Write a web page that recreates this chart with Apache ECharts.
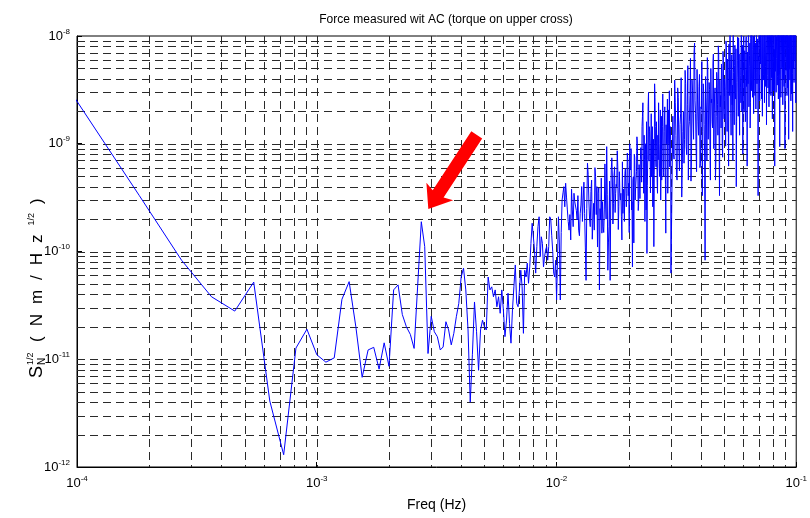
<!DOCTYPE html>
<html><head><meta charset="utf-8">
<script src="https://cdn.jsdelivr.net/npm/echarts@6/dist/echarts.min.js"></script>
<style>html,body{margin:0;padding:0;background:#fff}#c{width:810px;height:518px}</style>
</head><body><div id="c"></div>
<script>
// ---- data ----
const binWidth = 9.1e-5; // Hz, FFT bin spacing
// bins 1..110 (every bin)
const lowBand = [
3.4e-9,3.3e-10,8.3e-11,3.8e-11,2.8e-11,5.2e-11,4.1e-12,1.3e-12,1.27e-11,1.9e-11,
1.1e-11,9.4e-12,1.03e-11,3.6e-11,5.25e-11,2.0e-11,6.8e-12,1.22e-11,1.29e-11,8.1e-12,
1.42e-11,8.6e-12,4.4e-11,4.9e-11,2.6e-11,2.0e-11,1.7e-11,1.26e-11,5.0e-11,1.89e-10,
1.11e-10,1.13e-11,2.5e-11,1.8e-11,1.62e-11,1.22e-11,1.3e-11,2.23e-11,1.87e-11,1.36e-11,
1.74e-11,2.48e-11,3.3e-11,5.8e-11,7.0e-11,4.4e-11,1.87e-11,4.0e-12,1.1e-11,3.4e-11,
1.8e-11,7.9e-12,1.87e-11,2.3e-11,2.0e-11,1.87e-11,5.8e-11,4.4e-11,4.7e-11,3.8e-11,
4.4e-11,3.07e-11,3.8e-11,2.67e-11,4.4e-11,2.86e-11,1.62e-11,2.31e-11,4.1e-11,2.15e-11,
1.41e-11,2.86e-11,4.7e-11,7.5e-11,3.3e-11,3.07e-11,4.4e-11,6.7e-11,4.7e-11,1.74e-11,
6.7e-11,5.8e-11,7.8e-11,5.07e-11,7.2e-11,1.19e-10,1.83e-10,1.83e-10,1.03e-10,6.3e-11,
1.11e-10,1.7e-10,2.1e-10,8.95e-11,1.37e-10,1.19e-10,7.2e-11,8.95e-11,1.03e-10,1.11e-10,
8.3e-11,1.11e-10,2.1e-10,2.0e-10,1.4e-10,1.0e-10,6.3e-11,5.8e-11,8.3e-11,3.55e-11
];
// bins 112..330, even bins
const midEvenStart = 112, midStep = 2;
const midEven = [
2.1e-10,3.55e-11,3.0e-10,4.0e-10,4.3e-10,2.43e-10,1.58e-10,1.28e-10,2.43e-10,3.47e-10,
2.8e-10,1.96e-10,1.58e-10,2.26e-10,4.0e-10,3.0e-10,2.26e-10,5.4e-11,6.6e-10,3.0e-10,
1.7e-10,4.6e-10,1.96e-10,1.58e-10,4.95e-10,4.0e-10,3.47e-10,4.4e-11,1.96e-10,1.48e-10,
1.7e-10,2.43e-10,3.0e-10,9.4e-10,6.7e-11,1.7e-10,5.4e-11,5.7e-10,4.95e-10,2.8e-10,
6.1e-10,3.47e-10,4.0e-10,6.1e-10,2.6e-10,3.47e-10,3.47e-10,1.28e-10,2.26e-10,3.47e-10,
5.3e-10,4.0e-10,3.47e-10,7.1e-10,4.3e-10,1.0e-9,5.7e-10,2.43e-10,7.2e-11,4.95e-10,
8.0e-10,3.0e-10,4.0e-10,1.16e-9,5.7e-10,2.8e-10,4.95e-10,7.1e-10,7.6e-10,1.44e-9,
2.4e-9,3.47e-10,7.1e-10,1.0e-9,2.43e-10,9.6e-11,7.1e-10,3.0e-9,1.44e-9,1.0e-9,
7.1e-10,4.95e-10,1.44e-9,3.47e-10,1.11e-10,3.6e-9,1.44e-9,6.1e-10,9.4e-10,3.47e-10,
7.1e-10,1.0e-9,4.95e-10,2.06e-9,5.7e-10,4.6e-10,1.44e-9,9.4e-10,4.95e-10,1.66e-9,
7.1e-10,1.48e-10,1.0e-9,1.44e-9,3.47e-10,2.06e-9,1.0e-9,6.1e-10,1.44e-9,6.3e-11
];
// bins 113..329, odd bins
const midOddStart = 113;
const midOdd = [
1.2e-10,1.5e-10,3.5e-10,2.6e-10,3.2e-10,1.9e-10,2.2e-10,3.8e-10,1.7e-10,2.9e-10,
2.4e-10,3.3e-10,1.4e-10,2.7e-10,1.9e-10,4.4e-10,1.1e-10,2.5e-10,5.2e-10,2.0e-10,
3.6e-10,1.3e-10,2.8e-10,6.0e-10,2.2e-10,1.1e-10,3.9e-10,2.5e-10,4.8e-10,2.9e-10,
1.5e-10,6.5e-10,2.0e-10,3.4e-10,1.2e-10,4.5e-10,2.7e-10,7.4e-10,1.8e-10,5.1e-10,
2.3e-10,4.2e-10,8.6e-10,1.6e-10,5.5e-10,3.0e-10,2.1e-10,6.8e-10,3.8e-10,1.9e-10,
5.9e-10,2.6e-10,8.2e-10,3.3e-10,1.5e-10,6.2e-10,9.0e-10,2.9e-10,4.6e-10,1.2e-10,
7.5e-10,3.9e-10,5.5e-10,1.0e-9,2.4e-10,6.4e-10,3.1e-10,9.2e-10,4.4e-10,1.8e-9,
6.0e-10,1.2e-9,1.9e-10,8.4e-10,1.6e-9,4.1e-10,2.2e-9,6.9e-10,1.3e-9,3.5e-10,
1.9e-9,8.0e-10,2.6e-10,1.1e-9,5.2e-10,2.7e-9,7.6e-10,1.6e-9,4.4e-10,1.2e-9,
2.4e-9,6.1e-10,1.0e-9,3.0e-10,1.8e-9,8.5e-10,2.9e-9,5.4e-10,1.3e-9,2.2e-9,
4.2e-10,1.5e-9,9.8e-10,2.6e-9,5.8e-10,1.7e-9,3.1e-9,8.2e-10,1.1e-9
];
// bins 334..1098, every 4th bin
const highAStart = 334, highStep = 4;
const highA = [
6.5e-11,8e-10,3.9e-9,1.2e-9,4.6e-10, 2.7e-9,5.6e-10,1.9e-9,3.2e-10,1.3e-9,
6.6e-10,4.8e-9,9.4e-10,2.3e-9,4.6e-10, 1.6e-9,6.2e-9,7.8e-10,3.1e-9,1.1e-9,
8.6e-9,1.9e-9,5.5e-10,2.6e-9,1.2e-9, 4.4e-9,6.6e-10,2.1e-9,3.3e-10,3.6e-9,
1.5e-9,8.3e-11,2.7e-9,7e-10,5.2e-9, 1.1e-9,3.2e-9,4.6e-10,2.4e-9,1.6e-9,
5.6e-9,9e-10,2.9e-9,4.6e-10,1.8e-9, 3.9e-9,1.2e-9,6.9e-9,3.3e-10,2.2e-9,
1.4e-9,4.5e-9,7.5e-10,6e-9,1.7e-9, 3.4e-9,9.5e-10,7.8e-9,1.3e-9,4.2e-9,
6.2e-10,2.8e-9,1.1e-8,1.9e-9,5e-9, 2.3e-9,7e-10,4.6e-9,1.5e-9,8.2e-9,
2.6e-9,4e-10,3.7e-9,9.8e-9,1.8e-9, 6.4e-9,1.2e-9,4.3e-9,2.4e-9,1.1e-8,
3e-9,8e-10,5.8e-9,2e-9,7.3e-9, 1.6e-9,9.2e-9,3.4e-9,6.2e-10,4.8e-9,
1.2e-8,2.2e-9,6.6e-9,1.4e-9,9.5e-9, 3.1e-9,1.3e-8,2.7e-9,7.8e-9,1.9e-9,
1.1e-8,4e-9,8.6e-9,2.1e-9,1.4e-8, 3.6e-9,9e-9,3.3e-10,6e-9,1.2e-8,
2.5e-9,7.4e-9,1.5e-8,3e-9,9.6e-9, 1.8e-9,1.3e-8,4.4e-9,8e-9,2.4e-9,
1.6e-8,5.2e-9,1.1e-8,1.5e-9,7e-9, 1.2e-8,3.3e-9,9.2e-9,2.2e-9,1.4e-8,
4.6e-9,1e-8,2.8e-9,1.3e-8,6.2e-9, 1.7e-9,1.1e-8,5.4e-9,1.5e-8,3.6e-9,
6.2e-10,8.6e-9,1.2e-8,3e-9,9.8e-9, 1.4e-8,4.2e-9,1.1e-8,2.6e-9,7.6e-9,
1.3e-8,9.4e-10,8.8e-9,1.6e-8,3.8e-9, 1e-8,5e-9,1.4e-8,2.3e-9,9e-9,
1.5e-8,3.4e-9,1.2e-8,9e-10,7.2e-9, 1.3e-8,4.8e-9,1.1e-8,2.8e-9,1.6e-8,
5.6e-9,1.2e-8,1.1e-9,9.4e-9,1.4e-8, 3.9e-9,1.1e-8,6.6e-9,1.5e-8,2.9e-9,
1.2e-8,7.8e-9,1.3e-9,1.4e-8,5e-9, 1e-8,3.6e-9,1.6e-8,6e-9,1.3e-8,
2.4e-9,1.1e-8
];
// bins 336..1096, every 4th bin
const highBStart = 336;
const highB = [
1.8e-9,7.2e-10,2.4e-9,5.1e-10,3.3e-9,8.8e-10,1.5e-9,4.1e-9,6.4e-10,2.0e-9,
1.1e-9,3.6e-9,7.9e-10,5.3e-9,1.4e-9,2.8e-9,4.5e-10,3.9e-9,1.7e-9,7.1e-9,
2.5e-9,9.2e-10,4.9e-9,1.6e-9,3.4e-9,6.0e-10,2.2e-9,5.8e-9,1.3e-9,3.0e-9,
7.4e-10,4.2e-9,2.0e-9,6.3e-9,1.1e-9,3.7e-9,8.5e-10,5.0e-9,2.6e-9,1.4e-9,
6.8e-9,1.9e-9,3.3e-9,7.0e-10,4.6e-9,2.3e-9,8.1e-9,1.2e-9,3.9e-9,2.8e-9,
5.5e-9,1.0e-9,7.2e-9,2.1e-9,4.0e-9,1.5e-9,9.0e-9,3.1e-9,6.1e-9,1.8e-9,
8.4e-9,2.7e-9,4.9e-9,1.2e-9,6.7e-9,3.5e-9,1.1e-8,2.2e-9,5.3e-9,3.0e-9,
7.6e-9,1.6e-9,5.9e-9,4.1e-9,9.6e-9,2.5e-9,6.8e-9,3.3e-9,1.2e-8,2.0e-9,
8.2e-9,4.4e-9,1.0e-8,2.9e-9,6.3e-9,1.7e-9,9.9e-9,4.8e-9,7.1e-9,3.6e-9,
1.1e-8,5.2e-9,8.6e-9,2.4e-9,1.3e-8,4.0e-9,7.5e-9,3.2e-9,1.0e-8,5.9e-9,
1.2e-8,2.8e-9,8.9e-9,4.6e-9,1.4e-8,3.7e-9,9.4e-9,6.5e-9,1.1e-8,3.0e-9,
1.3e-8,5.5e-9,8.0e-9,2.6e-9,1.5e-8,6.1e-9,1.0e-8,3.9e-9,1.2e-8,7.0e-9,
9.1e-9,3.4e-9,1.4e-8,6.6e-9,1.1e-8,4.3e-9,1.6e-8,5.7e-9,8.7e-9,2.9e-9,
1.2e-8,6.9e-9,1.0e-8,4.1e-9,1.5e-8,5.0e-9,9.3e-9,3.1e-9,1.3e-8,7.5e-9,
1.1e-8,4.7e-9,1.6e-8,6.2e-9,9.0e-9,3.5e-9,1.4e-8,7.9e-9,1.2e-8,4.4e-9,
1.5e-8,6.0e-9,1.0e-8,2.7e-9,1.3e-8,7.2e-9,1.1e-8,5.1e-9,1.6e-8,4.0e-9,
1.2e-8,6.7e-9,1.4e-8,3.8e-9,1.0e-8,8.3e-9,1.5e-8,5.4e-9,1.1e-8,3.3e-9,
1.3e-8,7.7e-9,1.0e-8,4.9e-9,1.6e-8,6.4e-9,1.2e-8,2.5e-9,1.4e-8,8.1e-9,
1.1e-8,4.5e-9,1.5e-8,6.8e-9,1.2e-8,3.7e-9,1.3e-8,7.3e-9,1.0e-8,5.6e-9,
1.2e-8
];
// axes
const xMin = 1e-4, xMax = 1e-1;
const yMin = 1e-12, yMax = 1e-8;
const xGridDecades = [1e-4, 1e-3, 1e-2];
const yGridDecades = [1e-12, 1e-11, 1e-10, 1e-9];
const gridMantissas = [1, 2, 3, 4, 5, 6, 7, 8, 9];
// annotation arrow (data coordinates)
const arrowTip = [2.92e-3, 2.48e-10];
const arrowTail = [4.65e-3, 1.21e-9];

const titleText = 'Force measured wit AC (torque on upper cross)';
const xName = 'Freq (Hz)';

// ---- build ----
const points = [];
lowBand.forEach((v, i) => points.push([(i + 1) * binWidth, v]));
midEven.forEach((v, i) => points.push([(midEvenStart + i * midStep) * binWidth, v]));
midOdd.forEach((v, i) => points.push([(midOddStart + i * midStep) * binWidth, v]));
highA.forEach((v, i) => points.push([(highAStart + i * highStep) * binWidth, v]));
highB.forEach((v, i) => points.push([(highBStart + i * highStep) * binWidth, v]));
points.sort((a, b) => a[0] - b[0]);

const gridItems = [];
xGridDecades.forEach(d => gridMantissas.forEach(m => {
  const v = +(m * d).toPrecision(3);
  if (v > xMin && v < xMax) gridItems.push([v, yMin, 0]);
}));
yGridDecades.forEach(d => gridMantissas.forEach(m => {
  const v = +(m * d).toPrecision(3);
  if (v > yMin && v < yMax) gridItems.push([xMin, v, 1]);
}));

const FONT = 'Liberation Sans, Arial, Helvetica, sans-serif';
const powLabel = v => '{b|10}{e|' + Math.round(Math.log10(v)) + '}';
const labelRich = {
  b: { fontSize: 13, color: '#000', fontFamily: FONT },
  e: { fontSize: 8, color: '#000', fontFamily: FONT, padding: [0, 0, 9, 0] }
};

const chart = echarts.init(document.getElementById('c'), null, { renderer: 'canvas' });
chart.setOption({
  animation: false,
  backgroundColor: '#fff',
  textStyle: { fontFamily: FONT },
  title: {
    text: titleText, left: 441, top: 9, textAlign: 'center',
    textStyle: { fontSize: 12, fontWeight: 'normal', color: '#000', fontFamily: FONT }
  },
  grid: { left: 77, right: 5, top: 36, bottom: 51, show: true, borderColor: '#000', borderWidth: 1, backgroundColor: '#fff' },
  xAxis: {
    type: 'log', logBase: 10, min: xMin, max: xMax,
    name: xName, nameLocation: 'middle', nameGap: 31,
    nameTextStyle: { fontSize: 14, color: '#000', fontFamily: FONT },
    axisLine: { show: true, lineStyle: { color: '#000' } },
    axisTick: { show: true, inside: true, length: 5, lineStyle: { color: '#000' } },
    splitLine: { show: false },
    axisLabel: { formatter: powLabel, rich: labelRich, margin: 8, color: '#000' }
  },
  yAxis: {
    type: 'log', logBase: 10, min: yMin, max: yMax,
    axisLine: { show: true, lineStyle: { color: '#000' } },
    axisTick: { show: true, inside: true, length: 5, lineStyle: { color: '#000' } },
    splitLine: { show: false },
    axisLabel: { formatter: powLabel, rich: labelRich, margin: 7, color: '#000' }
  },
  series: [
    {
      type: 'custom', data: gridItems, encode: { x: 0, y: 1 }, silent: true, z: 1, clip: false,
      renderItem: (params, api) => {
        const cs = params.coordSys;
        const p = api.coord([api.value(0), api.value(1)]);
        const vertical = api.value(2) === 0;
        const shape = vertical
          ? { x1: Math.round(p[0]) + 0.5, y1: cs.y, x2: Math.round(p[0]) + 0.5, y2: cs.y + cs.height }
          : { x1: cs.x, y1: Math.round(p[1]) + 0.5, x2: cs.x + cs.width, y2: Math.round(p[1]) + 0.5 };
        return { type: 'line', shape, silent: true, style: { stroke: '#2a2a2a', lineWidth: 1, lineDash: [8, 5] } };
      }
    },
    {
      type: 'line', data: points, symbol: 'none', showSymbol: false, clip: true,
      lineStyle: { color: '#0000ff', width: 1 }, itemStyle: { color: '#0000ff' },
      z: 3, silent: true
    }
  ]
});

const tip = chart.convertToPixel({ gridIndex: 0 }, arrowTip);
const tail = chart.convertToPixel({ gridIndex: 0 }, arrowTail);
const dx = tail[0] - tip[0], dy = tail[1] - tip[1];
const L = Math.hypot(dx, dy);
const u = [dx / L, dy / L], n = [-u[1], u[0]];
const headLen = 21, headHalf = 16, shaftHalf = 6.5, notch = 3;
const P = (base, a, b) => [base[0] + u[0] * a + n[0] * b, base[1] + u[1] * a + n[1] * b];
const arrowPts = [
  tip, P(tip, headLen, headHalf), P(tip, headLen - notch, shaftHalf),
  P(tail, 0, shaftHalf), P(tail, 0, -shaftHalf),
  P(tip, headLen - notch, -shaftHalf), P(tip, headLen, -headHalf)
];

chart.setOption({
  graphic: [
    { type: 'polygon', shape: { points: arrowPts }, style: { fill: '#ff0000' }, z: 10, silent: true },
    {
      type: 'group', x: 37, y: 289, rotation: Math.PI / 2, silent: true,
      children: [
        { type: 'text', x: -89, y: 0, style: { text: 'S', fontSize: 18, fontFamily: FONT, fill: '#000', align: 'left', verticalAlign: 'middle' } },
        { type: 'text', x: -76, y: -6, style: { text: '1/2', fontSize: 9, fontFamily: FONT, fill: '#000', align: 'left', verticalAlign: 'middle' } },
        { type: 'text', x: -76, y: 5, style: { text: 'N', fontSize: 10, fontFamily: FONT, fill: '#000', align: 'left', verticalAlign: 'middle' } },
        { type: 'text', x: -58, y: 0, style: {
            text: '{c|(}{c|N}{c|m}{c|/}{c|H}{c|z}{p|1/2}{c|)}',
            align: 'left', verticalAlign: 'middle',
            rich: {
              c: { fontSize: 17, fontFamily: FONT, fill: '#000', color: '#000', padding: [0, 5, 0, 5] },
              p: { fontSize: 9, fontFamily: FONT, fill: '#000', color: '#000', padding: [0, 4, 11, 4] }
            }
        } }
      ]
    }
  ]
});
</script>
</body></html>
